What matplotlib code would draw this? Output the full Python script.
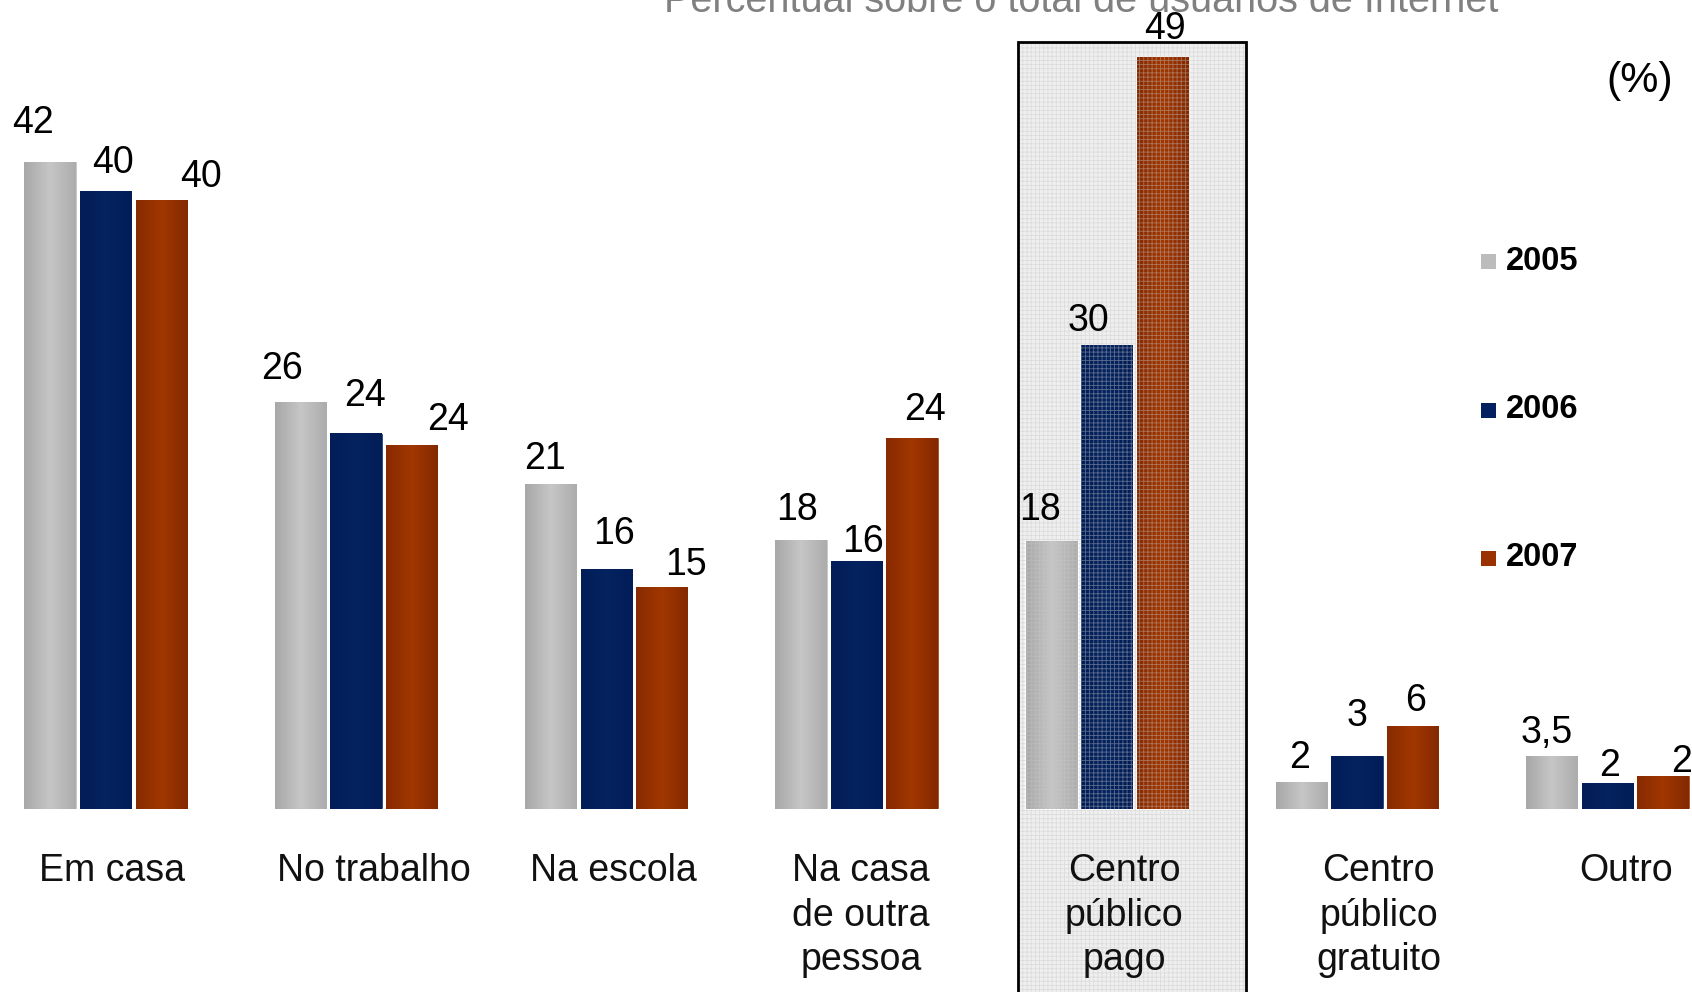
import matplotlib
matplotlib.use("Agg")
from matplotlib import pyplot as plt
from matplotlib.patches import Rectangle
from matplotlib.colors import LinearSegmentedColormap
import numpy as np

plt.rcParams['font.family'] = ['Liberation Sans', 'DejaVu Sans']
plt.rcParams['hatch.linewidth'] = 0.6

# Data
categories = ["Em casa", "No trabalho", "Na escola", "Na casa\nde outra\npessoa",
              "Centro\npúblico\npago", "Centro\npúblico\ngratuito", "Outro"]
years = ["2005", "2006", "2007"]
values_2005 = [42.0, 26.4, 21.1, 17.5, 17.4, 1.8, 3.5]
values_2006 = [40.1, 24.4, 15.6, 16.1, 30.1, 3.5, 1.7]
values_2007 = [39.5, 23.6, 14.4, 24.1, 48.8, 5.4, 2.2]
labels_2005 = ["42", "26", "21", "18", "18", "2", "3,5"]
labels_2006 = ["40", "24", "16", "16", "30", "3", "2"]
labels_2007 = ["40", "24", "15", "24", "49", "6", "2"]
title = "Percentual sobre o total de usuários de Internet"
highlight = 4  # index of the boxed category

series = [values_2005, values_2006, values_2007]
labels = [labels_2005, labels_2006, labels_2007]
colors = ["#bcbcbc", "#03215e", "#993100"]
gradients = [["#a8a8a8", "#c6c6c6", "#acacac"],
             ["#021d58", "#04235f", "#021d58"],
             ["#882a00", "#a13700", "#842900"]]

# label nudges (reference pixels): dx, dy above bar top
nudge_dx = [[-16, -17, -5, -4, -10, -2, -5],
            [7, 8, 7, 6, -17, 0, 2],
            [37, 34, 22, 12, 2, 3, 17]]
nudge_dy = [[26, 21, 14, 18, 19, 13, 11],
            [16, 25, 23, 8, 13, 27, 7],
            [12, 14, 11, 16, 16, 14, 3]]
cat_dx = [0.026, 0.073, 0.03, 0.017, 0.069, 0.086, 0.073]
px_to_pt = 0.72 * 1.079

fig = plt.figure(figsize=(16.92, 9.92), dpi=100)
ax = fig.add_axes([0, 0, 1, 1])
ax.axis('off')

x = np.arange(len(categories))
offsets = [-0.222, 0.0, 0.222]
width = 0.213

# highlight box behind the "Centro público pago" group
bx0, bw, btop = highlight - 0.353, 0.909, 49.7
ax.add_patch(Rectangle((bx0, -13), bw, btop + 13, facecolor="#efefef",
                       edgecolor="none", zorder=0))
ax.add_patch(Rectangle((bx0, -13), bw, btop + 13, facecolor="none",
                       edgecolor=(0.78, 0.78, 0.78, 0.45), linewidth=0, hatch="++++",
                       zorder=2.6))
ax.add_patch(Rectangle((bx0, -13), bw, btop + 13, facecolor="none",
                       edgecolor="black", linewidth=2, zorder=2.7))

grad = np.linspace(0, 1, 64).reshape(1, -1)
for i, vals in enumerate(series):
    bars = ax.bar(x + offsets[i], vals, width, color=colors[i], edgecolor="white",
                  linewidth=1, zorder=2)
    cmap = LinearSegmentedColormap.from_list("g%d" % i, gradients[i])
    for j, b in enumerate(bars):
        x0, h = b.get_x(), b.get_height()
        ax.imshow(grad, cmap=cmap, aspect="auto", zorder=2.1,
                  extent=[x0 + 0.004, x0 + width - 0.004, 0, h - 0.07],
                  interpolation="bilinear")
        ax.annotate(labels[i][j], (x0 + width / 2, h),
                    xytext=(nudge_dx[i][j] * px_to_pt, nudge_dy[i][j] * px_to_pt),
                    textcoords="offset points", ha="center", va="baseline",
                    fontsize=27, color="black", zorder=3)

ax.set_xlim(-0.422, 6.338)
ax.set_ylim(-11.84, 52.45)

for j, cat in enumerate(categories):
    ax.text(x[j] + cat_dx[j], -2.85, cat, ha="center", va="top", fontsize=27,
            linespacing=1.3, color="#111111", zorder=3)

fig.text(0.639, 0.988, title, ha="center", va="baseline", fontsize=28.5, color="#808080")
fig.text(0.989, 0.918, "(%)", ha="right", va="center", fontsize=31, color="black")

# legend
leg_y = [261, 410, 558]
for i, yr in enumerate(years):
    yc = 1 - leg_y[i] / 992
    fig.patches.append(Rectangle((1481 / 1692, yc - 7.5 / 992), 15 / 1692, 15 / 992,
                                 facecolor=colors[i], edgecolor="none",
                                 transform=fig.transFigure, figure=fig))
    fig.text(1506 / 1692, yc, yr, ha="left", va="center", fontsize=23.5,
             fontweight="bold", color="black")

fig.savefig("out.png", dpi=100)
